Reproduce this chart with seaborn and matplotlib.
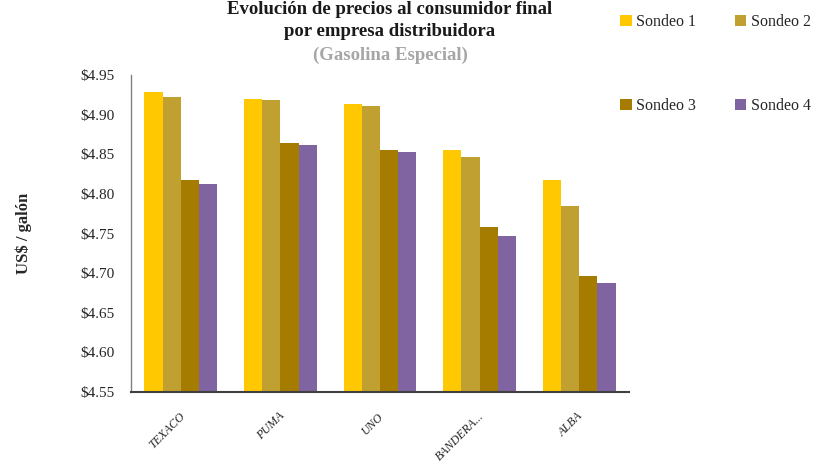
import matplotlib
matplotlib.use("Agg")
import matplotlib.pyplot as plt
import seaborn as sns
import pandas as pd
from matplotlib.ticker import FuncFormatter, MultipleLocator
from matplotlib.transforms import ScaledTranslation

empresas = ["TEXACO", "PUMA", "UNO", "BANDERA...", "ALBA"]
sondeo1 = [4.928, 4.920, 4.913, 4.855, 4.817]
sondeo2 = [4.922, 4.918, 4.911, 4.846, 4.785]
sondeo3 = [4.817, 4.864, 4.855, 4.758, 4.696]
sondeo4 = [4.812, 4.862, 4.853, 4.747, 4.687]
series = ["Sondeo 1", "Sondeo 2", "Sondeo 3", "Sondeo 4"]
colores = ["#FFC800", "#C0A030", "#A67C00", "#8064A2"]

rows = []
for name, vals in zip(series, [sondeo1, sondeo2, sondeo3, sondeo4]):
    for emp, v in zip(empresas, vals):
        rows.append({"Empresa": emp, "Sondeo": name, "Precio": v})
df = pd.DataFrame(rows)

sns.set_theme(style="white")
plt.rcParams["font.family"] = ["Liberation Serif", "DejaVu Serif"]

fig = plt.figure(figsize=(8.2, 4.67), dpi=100)
ax = fig.add_axes([131 / 820, 1 - 392 / 467, (629 - 131) / 820, (392 - 75) / 467])

sns.barplot(data=df, x="Empresa", y="Precio", hue="Sondeo", palette=colores,
            width=0.73, gap=0, ax=ax, edgecolor="none", linewidth=0, saturation=1)

ax.set_ylim(4.55, 4.95)
ax.yaxis.set_major_locator(MultipleLocator(0.05))
ax.yaxis.set_major_formatter(FuncFormatter(lambda v, p: f"${v:.2f}"))
ax.set_xlim(-0.5, 4.5)
ax.set_xlabel("")
ax.set_ylabel("US$ / galón", fontsize=12, fontweight="bold")
ax.yaxis.set_label_coords(-99 / 498, 0.5)
ax.tick_params(axis="y", length=0, labelsize=11, pad=12)
ax.tick_params(axis="x", length=0, labelsize=8.7, pad=13)
for lbl in ax.get_xticklabels():
    lbl.set_rotation(45)
    lbl.set_ha("right")
    lbl.set_rotation_mode("anchor")
    lbl.set_style("italic")
    lbl.set_transform(lbl.get_transform() + ScaledTranslation(-1.5 / 72, 0, fig.dpi_scale_trans))

sns.despine(ax=ax)
ax.spines["left"].set_color("#808080")
ax.spines["bottom"].set_color("#404040")
ax.spines["left"].set_linewidth(1)
ax.spines["bottom"].set_linewidth(1.5)

handles, labels = ax.get_legend_handles_labels()
ax.get_legend().remove()
order = [0, 2, 1, 3]
fig.legend([handles[i] for i in order], [labels[i] for i in order], ncol=2, loc="upper left",
           bbox_to_anchor=(606 / 820, 1 - 0 / 467),
           frameon=False, fontsize=11.5, handlelength=0.7, handleheight=0.7,
           handletextpad=0.3, columnspacing=2.4, labelspacing=4.25)

fig.text(390 / 820, 1 - 9 / 467, "Evolución de precios al consumidor final", ha="center", va="center",
         fontsize=13.5, fontweight="bold", color="#1a1a1a")
fig.text(390 / 820, 1 - 32 / 467, "por empresa distribuidora", ha="center", va="center",
         fontsize=13.5, fontweight="bold", color="#1a1a1a")
fig.text(390 / 820, 1 - 55 / 467, "(Gasolina Especial)", ha="center", va="center",
         fontsize=13.5, fontweight="bold", color="#A6A6A6")

fig.savefig("out.png", dpi=100)
